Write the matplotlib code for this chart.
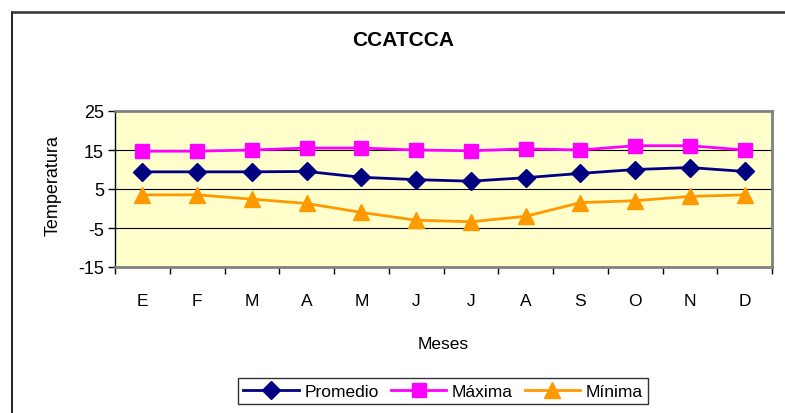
import matplotlib.pyplot as plt
import matplotlib.lines as mlines

plt.rcParams['font.family'] = ['Liberation Sans', 'DejaVu Sans']
plt.rcParams['axes.unicode_minus'] = False

meses = ['E', 'F', 'M', 'A', 'M', 'J', 'J', 'A', 'S', 'O', 'N', 'D']
promedio = [9.4, 9.4, 9.4, 9.5, 8.0, 7.4, 7.0, 7.9, 9.0, 10.0, 10.5, 9.5]
maxima = [14.7, 14.7, 15.0, 15.5, 15.5, 15.0, 14.8, 15.3, 15.0, 16.1, 16.1, 15.0]
minima = [3.5, 3.5, 2.4, 1.3, -1.0, -3.0, -3.4, -2.0, 1.5, 2.0, 3.1, 3.5]
yticks = [-15, -5, 5, 15, 25]

fig = plt.figure(figsize=(7.85, 4.14), dpi=100)

# outer chart frame (only top and left edges show)
fig.add_artist(mlines.Line2D([12/785, 12/785], [0, 1 - 13/414], color='black', lw=1.2))
fig.add_artist(mlines.Line2D([12/785, 1], [1 - 13/414, 1 - 13/414], color='#333333', lw=1.8))

ax = fig.add_axes([115/785, 1 - 268/414, 657/785, 156/414])
ax.set_facecolor('#FFFFCC')

x = list(range(len(meses)))
ax.plot(x, promedio, color='#000080', lw=2, marker='D', ms=9, label='Promedio')
ax.plot(x, maxima, color='#FF00FF', lw=2, marker='s', ms=10, label='Máxima')
ax.plot(x, minima, color='#FF9900', lw=2, marker='^', ms=11, label='Mínima')

for v in [-5, 5, 15]:
    ax.axhline(v, color='black', lw=0.8, zorder=0.5)

ax.set_xlim(-0.5, len(meses) - 0.5)
ax.set_ylim(-15, 25)
ax.set_yticks(yticks)
ax.set_xticks(x)
ax.set_xticklabels(meses)
ax.set_xticks([i - 0.5 for i in range(len(meses) + 1)], minor=True)
ax.tick_params(axis='x', which='major', length=0, pad=19, labelsize=12.5)
ax.tick_params(axis='x', which='minor', length=5, width=1, direction='out')
ax.tick_params(axis='y', length=5, width=1, direction='out', labelsize=13, pad=3)

for side in ['top', 'right', 'bottom']:
    ax.spines[side].set_color('#808080')
    ax.spines[side].set_linewidth(2)
ax.spines['left'].set_color('black')
ax.spines['left'].set_linewidth(1)

fig.text(403/785, 1 - 41/414, 'CCATCCA', fontsize=15, fontweight='bold', ha='center', va='center')
ax.set_xlabel('Meses', fontsize=12.5)
ax.xaxis.set_label_coords(0.5, -69/156)
ax.set_ylabel('Temperatura', fontsize=13)
ax.yaxis.set_label_coords(-53/657, 0.53)

leg = ax.legend(loc='center', bbox_to_anchor=(443/785, 1 - 392/414), bbox_transform=fig.transFigure,
                ncol=3, frameon=True, fancybox=False, edgecolor='black', fontsize=12.5,
                handlelength=3.2, columnspacing=0.7, handletextpad=0.3, borderpad=0.3)
leg.get_frame().set_linewidth(1)

fig.savefig('out.png', dpi=100)
